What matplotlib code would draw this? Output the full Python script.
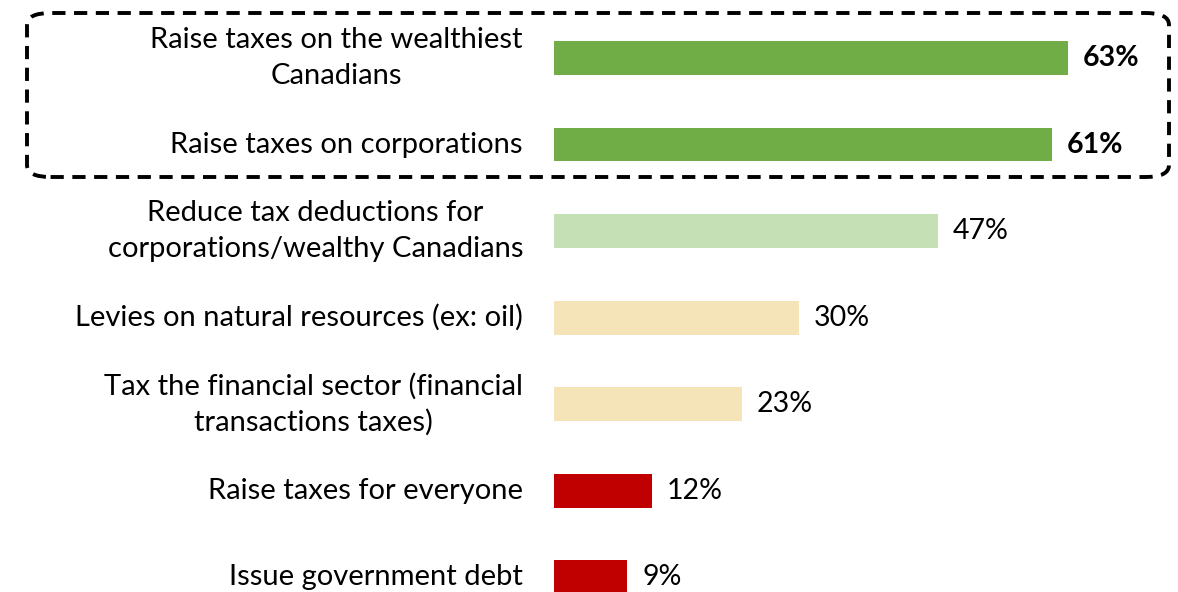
import matplotlib.pyplot as plt
from matplotlib.patches import FancyBboxPatch

plt.rcParams['font.family'] = ['Lato', 'DejaVu Sans']

labels = [
    'Raise taxes on the wealthiest\nCanadians',
    'Raise taxes on corporations',
    'Reduce tax deductions for\ncorporations/wealthy Canadians',
    'Levies on natural resources (ex: oil)',
    'Tax the financial sector (financial\ntransactions taxes)',
    'Raise taxes for everyone',
    'Issue government debt',
]
values = [63, 61, 47, 30, 23, 12, 9]
colors = ['#70AD47', '#70AD47', '#C5E0B4', '#F5E4B8', '#F5E4B8', '#C00000', '#C00000']
bold = [True, True, False, False, False, False, False]

W, H = 1178, 592
fig = plt.figure(figsize=(W / 100, H / 100), dpi=100)
ax = fig.add_axes([554 / W, 0, 1 - 554 / W, 1])

ypos = list(range(len(values)))
ax.barh(ypos, values, height=0.39, color=colors)
ax.set_xlim(0, (W - 554) / 8.16)
ax.set_ylim(6.17, -0.67)
ax.axis('off')

for y, v, b in zip(ypos, values, bold):
    ax.text(v + 1.8, y, f'{v}%', va='center', ha='left', fontsize=20.5,
            fontweight='bold' if b else 'normal')

for y, lab in zip(ypos, labels):
    ax.annotate(lab, xy=(0, y), xycoords='data', xytext=(-31, 0),
                textcoords='offset pixels', ha='right', va='center',
                fontsize=21, multialignment='center', linespacing=1.45)

# dashed frame around the two tax-the-rich options
box = FancyBboxPatch((27 / W, (H - 177) / H), (1169 - 27) / W, (177 - 13) / H,
                     boxstyle='round,pad=0,rounding_size=0.02',
                     transform=fig.transFigure, fill=False, edgecolor='black',
                     linewidth=2.8, linestyle=(0, (3.4, 2.2)))
fig.patches.append(box)

fig.savefig('out.png', dpi=100)
